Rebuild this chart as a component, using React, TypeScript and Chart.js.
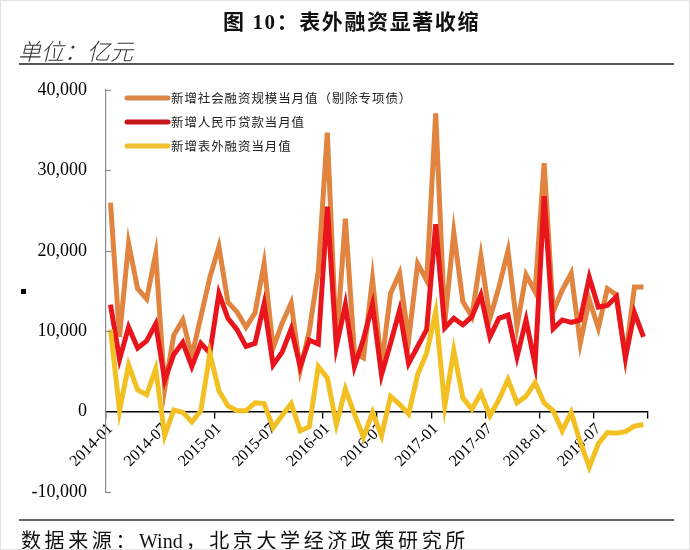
import React, { useEffect, useRef } from "react";
import { Chart, registerables } from "chart.js";

Chart.register(...registerables);

// ---------- data ----------
const years = ["2014", "2015", "2016", "2017", "2018"];
const monthsOfYear = ["01", "02", "03", "04", "05", "06", "07", "08", "09", "10", "11", "12"];
const categories: string[] = years.flatMap((y) => monthsOfYear.map((m) => `${y}-${m}`));

const seriesLabels = [
  "新增社会融资规模当月值（剔除专项债）",
  "新增人民币贷款当月值",
  "新增表外融资当月值",
];

// 新增社会融资规模当月值（剔除专项债）
const tsfData = [
  26000, 9300, 20900, 15300, 14000, 19600, 2800, 9500, 11400, 6900, 11800, 16700,
  20500, 13600, 12400, 10500, 12300, 18400, 7900, 11000, 13500, 5200, 10000, 17500,
  34700, 8300, 24000, 7300, 6700, 16500, 5800, 14700, 17200, 8900, 18400, 16300,
  37100, 11000, 22300, 13700, 11800, 19300, 11600, 15500, 20000, 10600, 17000, 14900,
  30900, 12400, 15100, 17200, 8500, 13900, 10400, 15300, 14500, 6700, 15500, 15500,
];

// 新增人民币贷款当月值
const loanData = [
  13300, 6500, 10500, 7900, 8800, 10900, 3900, 7100, 8600, 5600, 8500, 7300,
  14700, 11600, 10200, 8100, 8500, 13400, 5800, 7400, 10300, 5600, 8900, 8400,
  25500, 8100, 13300, 5600, 9000, 13300, 4600, 8500, 12600, 6000, 8100, 10200,
  23300, 10400, 11600, 10800, 11800, 14500, 9300, 11600, 12000, 6800, 11400, 5800,
  26800, 10300, 11400, 11100, 11400, 16700, 13000, 13200, 14300, 6700, 12300, 9300,
];

// 新增表外融资当月值
const offBalanceData = [
  10200, 100, 5800, 2700, 2100, 5300, -3000, 200, -100, -1300, 100, 7200,
  2600, 700, 100, 100, 1100, 1000, -2000, -500, 1000, -2400, -1900, 5600,
  4200, -1600, 2800, -300, -3200, -100, -3000, 1900, 900, -300, 4600, 7300,
  12400, 700, 7600, 1700, 300, 2300, -500, 1500, 4000, 1100, 1900, 3600,
  1100, 100, -2400, -100, -3800, -6900, -4000, -2600, -2700, -2500, -1800, -1600,
];

const yMin = -10000;
const yMax = 40000;
const yStep = 10000;
const labelEvery = 6;

// ---------- styles ----------
const ORANGE = "#E0843F";
const RED = "#E8161C";
const YELLOW = "#F3C023";
const LEGEND_COLORS = ["#DA8448", "#C4161C", "#F0C030"];

const legendPlugin = {
  id: "insideLegend",
  afterDraw(chart: any) {
    const { ctx, chartArea } = chart;
    ctx.save();
    chart.data.datasets.forEach((ds: any, i: number) => {
      const y = chartArea.top + 8 + i * 24;
      const x0 = chartArea.left + 21;
      ctx.strokeStyle = LEGEND_COLORS[i];
      ctx.lineWidth = 5;
      ctx.lineCap = "round";
      ctx.beginPath();
      ctx.moveTo(x0, y);
      ctx.lineTo(x0 + 41, y);
      ctx.stroke();
      ctx.fillStyle = "#222";
      ctx.font = '12.5px "Noto Sans CJK SC"';
      ctx.textBaseline = "middle";
      ctx.textAlign = "left";
      (ctx as any).letterSpacing = "0.9px";
      ctx.fillText(ds.label, x0 + 44, y);
    });
    ctx.restore();
  },
};

const yInnerTicks = {
  id: "yInnerTicks",
  afterDraw(chart: any) {
    const { ctx, chartArea } = chart;
    const ys = chart.scales.y;
    ctx.save();
    ctx.strokeStyle = "#8c8c8c";
    ctx.lineWidth = 1.2;
    ys.ticks.forEach((t: any) => {
      const p = Math.round(ys.getPixelForValue(t.value)) + 0.5;
      ctx.beginPath();
      ctx.moveTo(chartArea.left, p);
      ctx.lineTo(chartArea.left + 5, p);
      ctx.stroke();
    });
    ctx.restore();
  },
};

function ChartCanvas() {
  const ref = useRef<HTMLCanvasElement | null>(null);
  useEffect(() => {
    if (!ref.current) return;
    const chart = new Chart(ref.current, {
      type: "line",
      data: {
        labels: categories,
        datasets: [
          { label: seriesLabels[0], data: tsfData, borderColor: ORANGE, backgroundColor: ORANGE, borderWidth: 5, pointRadius: 0, tension: 0, order: 3 },
          { label: seriesLabels[1], data: loanData, borderColor: RED, backgroundColor: RED, borderWidth: 5, pointRadius: 0, tension: 0, order: 2 },
          { label: seriesLabels[2], data: offBalanceData, borderColor: YELLOW, backgroundColor: YELLOW, borderWidth: 5, pointRadius: 0, tension: 0, order: 1 },
        ],
      },
      options: {
        animation: false,
        responsive: false,
        maintainAspectRatio: false,
        layout: { padding: { top: 89, bottom: 59, left: 0, right: 43 } },
        plugins: { legend: { display: false }, tooltip: { enabled: false } },
        scales: {
          x: {
            type: "category",
            offset: true,
            position: { y: 0 } as any,
            grid: {
              offset: true,
              drawOnChartArea: false,
              drawTicks: true,
              tickLength: 6,
              lineWidth: 1.3,
              color: (c: any) => {
                const i = c.index ?? categories.length;
                return i % labelEvery === 0 ? "#000" : "rgba(0,0,0,0)";
              },
            },
            border: { display: true, color: "#000", width: 1.6 },
            ticks: {
              autoSkip: false,
              minRotation: 45,
              maxRotation: 45,
              padding: 2,
              color: "#000",
              font: { family: "Liberation Serif", size: 16 },
              callback: (_v: any, i: number) => (i % labelEvery === 0 ? categories[i] : ""),
            },
          },
          y: {
            min: yMin,
            max: yMax,
            afterFit: (s: any) => {
              s.width = 105;
            },
            grid: { drawOnChartArea: false, drawTicks: false },
            border: { display: true, color: "#8c8c8c", width: 1.2 },
            ticks: {
              stepSize: yStep,
              padding: 19,
              color: "#000",
              font: { family: "Liberation Serif", size: 18 },
              callback: (v: any) => Number(v).toLocaleString("en-US"),
            },
          },
        },
      },
      plugins: [legendPlugin, yInnerTicks],
    });
    return () => chart.destroy();
  }, []);
  return <canvas ref={ref} width={690} height={550} style={{ position: "absolute", left: 0, top: 0, width: 690, height: 550 }} />;
}

export default function App() {
  return (
    <div
      style={{
        position: "absolute",
        left: 0,
        top: 0,
        width: 690,
        height: 550,
        background: "#fff",
        boxSizing: "border-box",
        border: "1px solid #e2e2e2",
        overflow: "hidden",
      }}
    >
      <ChartCanvas />
      <div
        style={{
          position: "absolute",
          left: 222,
          top: 4,
          fontFamily: '"Liberation Serif", "Noto Sans CJK SC"',
          fontWeight: 700,
          fontSize: 21,
          letterSpacing: 1.6,
          color: "#111",
          whiteSpace: "nowrap",
        }}
      >
        图 10：表外融资显著收缩
      </div>
      <div
        style={{
          position: "absolute",
          left: 17,
          top: 32,
          fontFamily: '"Noto Sans CJK SC"',
          fontStyle: "italic",
          fontWeight: 300,
          fontSize: 23,
          color: "#333",
          whiteSpace: "nowrap",
        }}
      >
        单位：亿元
      </div>
      <div style={{ position: "absolute", left: 18, top: 62, width: 655, height: 2, background: "#555" }} />
      <div style={{ position: "absolute", left: 20, top: 288, width: 5, height: 5, background: "#000" }} />
      <div style={{ position: "absolute", left: 18, top: 518, width: 655, height: 2, background: "#666" }} />
      <div
        style={{
          position: "absolute",
          left: 20,
          top: 524,
          fontFamily: '"Liberation Serif", "Noto Sans CJK SC"',
          fontSize: 20,
          letterSpacing: 3.6,
          color: "#111",
          whiteSpace: "nowrap",
        }}
      >
        数据来源：<span style={{ letterSpacing: 0, marginRight: 3 }}>Wind</span>，北京大学经济政策研究所
      </div>
    </div>
  );
}
